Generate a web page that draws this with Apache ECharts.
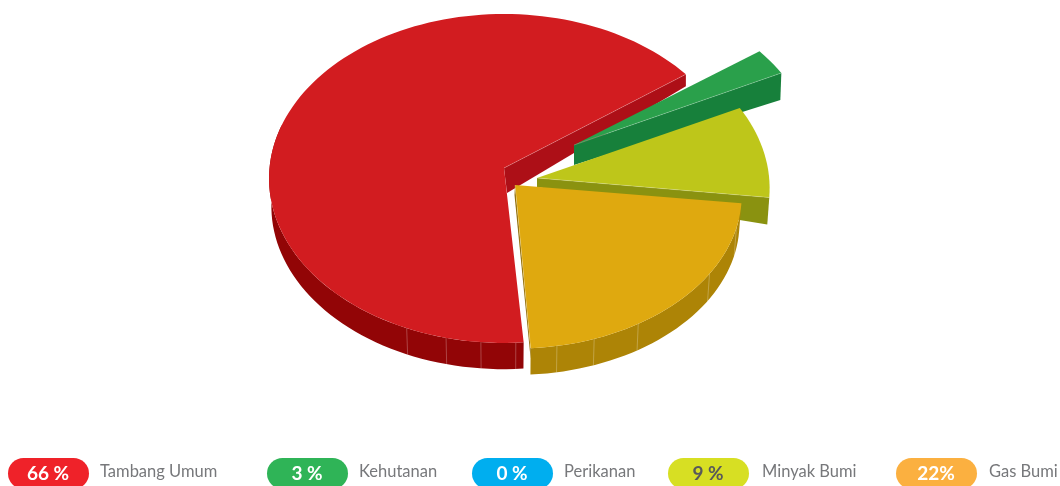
<!DOCTYPE html>
<html>
<head>
    <meta charset="UTF-8">
    <title>Komposisi</title>
    <style>
        html, body { margin: 0; padding: 0; background: #fff; }
        #main { width: 1060px; height: 486px; }
    </style>
</head>
<body>
<div id="main"></div>
<script src="https://cdn.jsdelivr.net/npm/echarts@6/dist/echarts.min.js"></script>
<script type="text/javascript">
    var categories = ['Tambang Umum', 'Kehutanan', 'Perikanan', 'Minyak Bumi', 'Gas Bumi'];
    var values = [66, 3, 0, 9, 22];
    var percentLabels = ['66 %', '3 %', '0 %', '9 %', '22%'];

    var pillColors = ['#ef2229', '#2fb457', '#00aeef', '#d7df23', '#fbb040'];
    var pillTextColors = ['#fff', '#fff', '#fff', '#58595b', '#fff'];
    var pillLeft = [8, 267, 472, 668, 896];
    var labelLeft = [100, 359, 564, 762, 989];

    var topColors = ['#d21c20', '#2aa04b', '#000', '#bec61a', '#dfa90f'];
    var wallColors = ['#920506', '#17803b', '#000', '#8a9210', '#ad8406'];
    var cutColors = ['#ad0f17', '#17803b', '#000', '#8a9210', '#8f6c05'];

    // how each slice sits in the drawing: shift from pie centre, scale, nudge of the cut angles, thickness at the cut
    var sliceLook = [
        { ox: 0, oy: 0, sx: 1, sy: 1, nudge0: 0.5, nudge1: 1, apexDrop: 25, rimDrop: 12, apexDx: 3, rimDx: 0, wallSpan: 110, seams: [177.3, 185.3, 193.4, 203] },
        { ox: 70, oy: -23, sx: 1.02, sy: 1, nudge0: 1, nudge1: -0.3, apexDrop: 20, rimDrop: 27, apexDx: 0, rimDx: -1, wallSpan: 0, seams: [] },
        null,
        { ox: 33, oy: 10, sx: 0.99, sy: 1, nudge0: 0.5, nudge1: 1, apexDrop: 9, rimDrop: 27, apexDx: 0, rimDx: -2, wallSpan: 0, seams: [] },
        { ox: 11, oy: 17, sx: 0.965, sy: 0.935, nudge0: 1, nudge1: 1.3, apexDrop: 10, rimDrop: 10, apexDx: -0.5, rimDx: 0, wallSpan: 90, seams: [106, 124, 149, 160.8, 170] }
    ];

    var pieX = 504, pieY = 168, radiusX = 234.5, radiusY = 163.8, perspective = 0.0637;
    var startAngle = 175, wallDepth = 29, bottomScale = 0.99;

    var total = values.reduce(function (s, v) { return s + v; }, 0);

    function rimPoint(look, deg, scale, drop) {
        var a = deg * Math.PI / 180;
        var w = 1 + perspective * Math.cos(a);
        return [
            pieX + look.ox + radiusX * look.sx * scale * Math.sin(a) / w,
            pieY + look.oy - radiusY * look.sy * scale * Math.cos(a) / w + drop
        ];
    }

    function arcPoints(look, from, to, scale, drop) {
        var pts = [];
        var n = Math.max(2, Math.ceil(Math.abs(to - from) / 2));
        for (var i = 0; i <= n; i++) {
            pts.push(rimPoint(look, from + (to - from) * i / n, scale, drop));
        }
        return pts;
    }

    function renderSlice(params, api) {
        var idx = params.dataIndex;
        var look = sliceLook[idx];
        if (!api.value(0) || !look) return null;
        var before = 0;
        for (var i = 0; i < idx; i++) before += values[i];
        var a0 = startAngle + before / total * 360 + look.nudge0;
        var a1 = startAngle + (before + api.value(0)) / total * 360 + look.nudge1;
        var apex = [pieX + look.ox, pieY + look.oy];
        var children = [];

        // outer wall
        if (look.wallSpan > 0) {
            var wallEnd = Math.min(a1, a0 + look.wallSpan);
            var upper = arcPoints(look, a0, wallEnd, 1, 0);
            var lower = arcPoints(look, a0, wallEnd, bottomScale, wallDepth - 1);
            children.push({
                type: 'polygon',
                shape: { points: upper.concat(lower.reverse()) },
                style: { fill: wallColors[idx] }
            });
            look.seams.forEach(function (s) {
                var p = rimPoint(look, s, 1, 0);
                var q = rimPoint(look, s, bottomScale, wallDepth - 1);
                children.push({
                    type: 'line',
                    shape: { x1: p[0], y1: p[1], x2: q[0], y2: q[1] },
                    style: { stroke: 'rgba(255,255,255,0.25)', lineWidth: 1 }
                });
            });
        }

        // cut face at the end of the slice
        var rim = rimPoint(look, a1, 1, 0);
        children.push({
            type: 'polygon',
            shape: {
                points: [
                    apex, rim,
                    [rim[0] + look.rimDx, rim[1] + look.rimDrop],
                    [apex[0] + look.apexDx, apex[1] + look.apexDrop]
                ]
            },
            style: { fill: cutColors[idx] }
        });

        // top surface
        children.push({
            type: 'polygon',
            shape: { points: [apex].concat(arcPoints(look, a0, a1, 1, 0)) },
            style: { fill: topColors[idx] }
        });

        // thin light edge where top meets the cut
        children.push({
            type: 'line',
            shape: { x1: apex[0], y1: apex[1], x2: rim[0], y2: rim[1] },
            style: { stroke: 'rgba(255,255,255,0.22)', lineWidth: 1 }
        });
        return { type: 'group', children: children };
    }

    function legendItems() {
        var items = [];
        categories.forEach(function (name, i) {
            items.push({
                type: 'rect',
                x: pillLeft[i],
                y: 458,
                shape: { width: 81, height: 31, r: 15.5 },
                style: { fill: pillColors[i] }
            });
            items.push({
                type: 'text',
                x: pillLeft[i] + 40,
                y: 473.5,
                style: {
                    text: percentLabels[i],
                    align: 'center',
                    verticalAlign: 'middle',
                    fill: pillTextColors[i],
                    font: 'bold 19px Lato'
                }
            });
            items.push({
                type: 'text',
                x: labelLeft[i],
                y: 472,
                style: {
                    text: name,
                    verticalAlign: 'middle',
                    fill: '#77787b',
                    font: '16.5px Lato'
                }
            });
        });
        return items;
    }

    var myChart = echarts.init(document.getElementById('main'), null, { renderer: 'canvas' });
    var option = {
        animation: false,
        backgroundColor: '#fff',
        graphic: legendItems(),
        series: [{
            type: 'custom',
            coordinateSystem: 'none',
            silent: true,
            renderItem: renderSlice,
            data: values.map(function (v, i) { return { name: categories[i], value: [v] }; })
        }]
    };
    myChart.setOption(option);
</script>
</body>
</html>
